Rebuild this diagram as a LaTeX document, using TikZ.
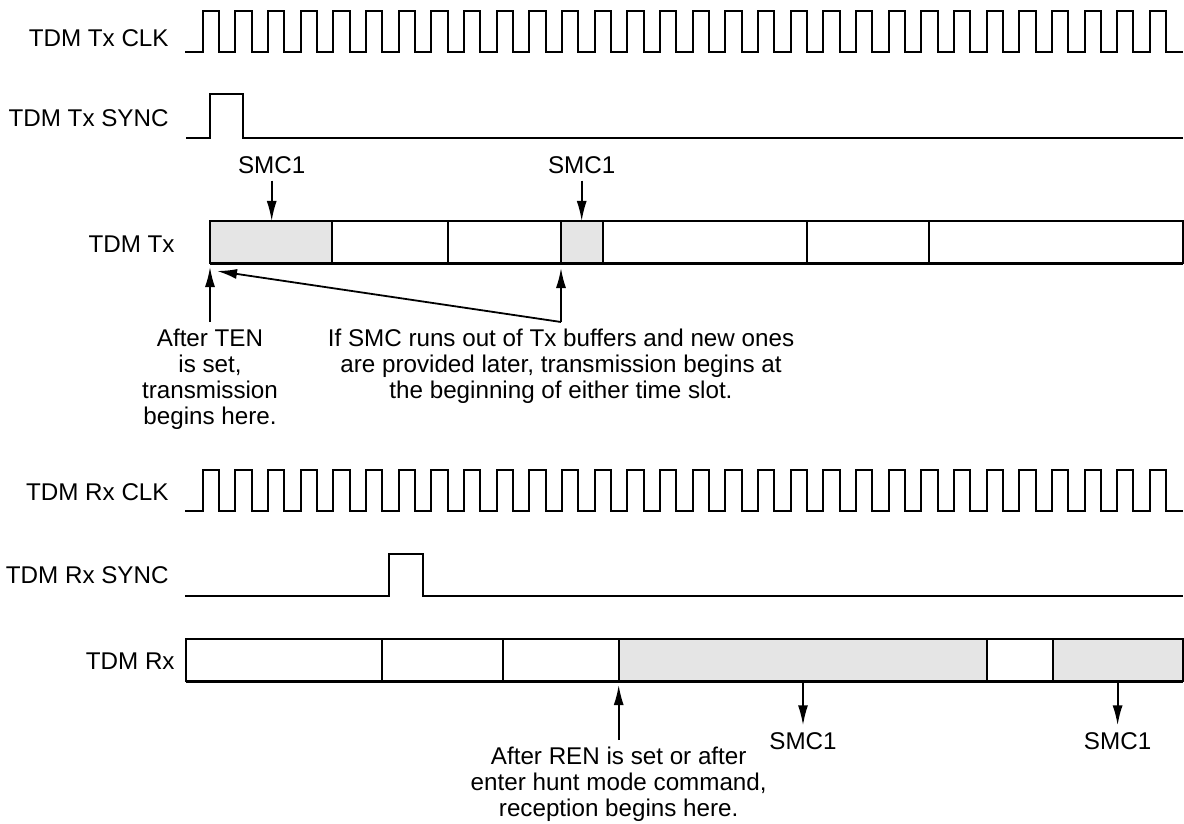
\documentclass[tikz,border=0pt]{standalone}
\usepackage{fontspec}
\setmainfont{Liberation Sans}
\usetikzlibrary{arrows.meta}

\begin{document}
\begin{tikzpicture}[x=0.5pt, y=-0.5pt,
		>={Latex[length=10pt,width=5pt]},   %Pfeilspitzen
		font=\fontsize{12.1pt}{13pt}\selectfont,
		signal/.style={line width=1pt, line join=miter},
		slot/.style={line width=1pt},
		lbl/.style={anchor=east, inner sep=0pt},
		note/.style={align=center, anchor=north},
		pfeil/.style={->, line width=0.9pt}]
		\useasboundingbox (0,0) rectangle (1184,824);
		%Beschriftung links
		\node[lbl] (txclk) at (169,38) {TDM Tx CLK};
		\node[lbl] (txsync) at (169,118) {TDM Tx SYNC};
		\node[lbl] (txdata) at (175,244) {TDM Tx};
		\node[lbl] (rxclk) at (169,492) {TDM Rx CLK};
		\node[lbl] (rxsync) at (169,575) {TDM Rx SYNC};
		\node[lbl] (rxdata) at (175,661) {TDM Rx};
		%Takte zeichnen
		\foreach \y in {51.7,510.7}
			\draw[signal] (185,\y) \foreach \i in {0,...,29} { -- ({202.7+32.66*\i},\y) -- ++(0,-41) -- ++(16.3,0) -- ++(0,41) } -- (1183,\y);
		%Sync-Pulse
		\draw[signal] (186,138) -- (210,138) -- (210,94) -- (242.7,94) -- (242.7,138) -- (1183,138);
		\draw[signal] (185,595.7) -- (389.3,595.7) -- (389.3,554.3) -- (423.3,554.3) -- (423.3,595.7) -- (1183,595.7);
		%Zeitschlitze Tx
		\fill[gray!20] (210,221) rectangle (331.7,263);
		\fill[gray!20] (561,221) rectangle (602.7,263);
		\draw[slot] (210,221) rectangle (1183,263);
		\draw[line width=1.5pt] (210,263) -- (1183,263);
		\foreach \x in {331.7,447.7,561,602.7,807,929} \draw[slot] (\x,221) -- (\x,263);
		%Zeitschlitze Rx
		\fill[gray!20] (618.7,639) rectangle (987,681);
		\fill[gray!20] (1052.7,639) rectangle (1183,681);
		\draw[slot] (186,639) rectangle (1183,681);
		\draw[line width=1.5pt] (186,681) -- (1183,681);
		\foreach \x in {381.7,503.3,618.7,987,1052.7} \draw[slot] (\x,639) -- (\x,681);
		%Punkte an den Zeitschlitzen
		\coordinate (txstart) at (210,267);
		\coordinate (txhit) at (217,271);
		\coordinate (txslot) at (561,268);
		\coordinate (smcAtip) at (271.7,221);
		\coordinate (smcBtip) at (581.7,221);
		\coordinate (rxstart) at (618.7,685);
		\coordinate (rxA) at (803,681);
		\coordinate (rxB) at (1117.6,681);
		%SMC1 Markierungen
		\node (smcA) at (271.7,165) {SMC1};
		\node (smcB) at (581.7,165) {SMC1};
		\node (smcC) at (803,741) {SMC1};
		\node (smcD) at (1117.6,741) {SMC1};
		\draw[pfeil] (smcA) -- (smcAtip);
		\draw[pfeil] (smcB) -- (smcBtip);
		\draw[pfeil] (rxA) -- (smcC);
		\draw[pfeil] (rxB) -- (smcD);
		%Erklaerungen
		\node[note] (ten) at (210,322) {After TEN\\is set,\\transmission\\begins here.};
		\node[note] (refill) at (561,322) {If SMC runs out of Tx buffers and new ones\\are provided later, transmission begins at\\the beginning of either time slot.};
		\node[note] (ren) at (618.7,740) {After REN is set or after\\enter hunt mode command,\\reception begins here.};
		\draw[pfeil] (ten.north) -- (txstart);
		\draw[pfeil] (refill.north) -- (txslot);
		\draw[pfeil] (refill.north) -- (txhit);
		\draw[pfeil] (ren.north) -- (rxstart);
	\end{tikzpicture}
\end{document}
